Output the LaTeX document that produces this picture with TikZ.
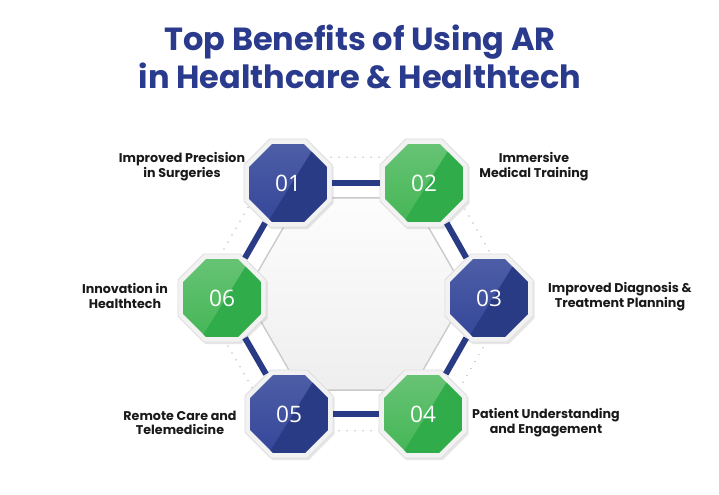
\documentclass[tikz,border=0pt]{standalone}
\usepackage{fontspec}
\setmainfont{Poppins}
\newfontfamily\numfont{Open Sans}
\usetikzlibrary{shapes.geometric,shadows}

\definecolor{navyA}{HTML}{35479A}
\definecolor{navyB}{HTML}{2A3B86}
\definecolor{leafA}{HTML}{45B656}
\definecolor{leafB}{HTML}{30AC4A}
\definecolor{titleblue}{HTML}{2A3A8C}

\tikzset{
    rim/.style={regular polygon, regular polygon sides=8, minimum size=71.5pt, inner sep=0pt,
        fill=gray!10, draw=gray!25, line width=0.6pt,
        drop shadow={opacity=0.2, shadow xshift=1.2pt, shadow yshift=-1.5pt}},
    oct/.style={regular polygon, regular polygon sides=8, minimum size=63pt, inner sep=0pt,
        text=white, font=\numfont\fontsize{17}{17}\selectfont},
    navyoct/.style={oct, top color=navyA!88!white, bottom color=navyA,
        path picture={\fill[navyB] ([xshift=-8pt]path picture bounding box.north east)
            -- ([xshift=-15pt]path picture bounding box.south) -- (path picture bounding box.south east)
            -- (path picture bounding box.north east) -- cycle;}},
    leafoct/.style={oct, top color=leafA!82!white, bottom color=leafA,
        path picture={\fill[leafB] ([xshift=-8pt]path picture bounding box.north east)
            -- ([xshift=-15pt]path picture bounding box.south) -- (path picture bounding box.south east)
            -- (path picture bounding box.north east) -- cycle;}},
    bar/.style={navyB, line width=4.5pt},
    benefit/.style={align=center, font=\bfseries\fontsize{9.5}{11}\selectfont, text=black!90}
}

\begin{document}
\begin{tikzpicture}[x=0.75pt, y=-0.75pt]
    \useasboundingbox (0,0) rectangle (719,495);

    % title
    \node[font=\bfseries\fontsize{24}{28}\selectfont, text=titleblue, align=center] (title) at (360,57)
        {Top Benefits of Using AR\\in Healthcare \& Healthtech};

    % dotted ring and centre hexagon
    \node[regular polygon, regular polygon sides=6, minimum size=237pt, draw=gray!45,
        line width=1.3pt, dash pattern=on 0pt off 6pt, line cap=round] (ring) at (356,294) {};
    \node[regular polygon, regular polygon sides=6, minimum size=166.5pt, top color=gray!2,
        bottom color=gray!13, draw=gray!42, line width=1pt] (hub) at (356,294) {};

    % the six octagons
    \foreach \n/\x/\y/\col in {01/288/183/navy, 02/424/183/leaf, 03/489/298/navy,
                               04/423/414/leaf, 05/289/414/navy, 06/222/298/leaf} {
        \node[rim] (r\n) at (\x,\y) {};
        \node[\col oct] (o\n) at (r\n) {\n};
    }

    % bars between the octagons
    \draw[bar] (r01) -- (r02);
    \draw[bar] (r02) -- (r03);
    \draw[bar] (r03) -- (r04);
    \draw[bar] (r04) -- (r05);
    \draw[bar] (r05) -- (r06);
    \draw[bar] (r06) -- (r01);

    % labels
    \node[benefit] (l01) at (182,167) {Improved Precision\\in Surgeries};
    \node[benefit] (l02) at (534,167) {Immersive\\Medical Training};
    \node[benefit] (l03) at (620,297) {Improved Diagnosis \&\\Treatment Planning};
    \node[benefit] (l04) at (546,423) {Patient Understanding\\and Engagement};
    \node[benefit] (l05) at (180,423) {Remote Care and\\Telemedicine};
    \node[benefit] (l06) at (125,296) {Innovation in\\Healthtech};
\end{tikzpicture}
\end{document}
